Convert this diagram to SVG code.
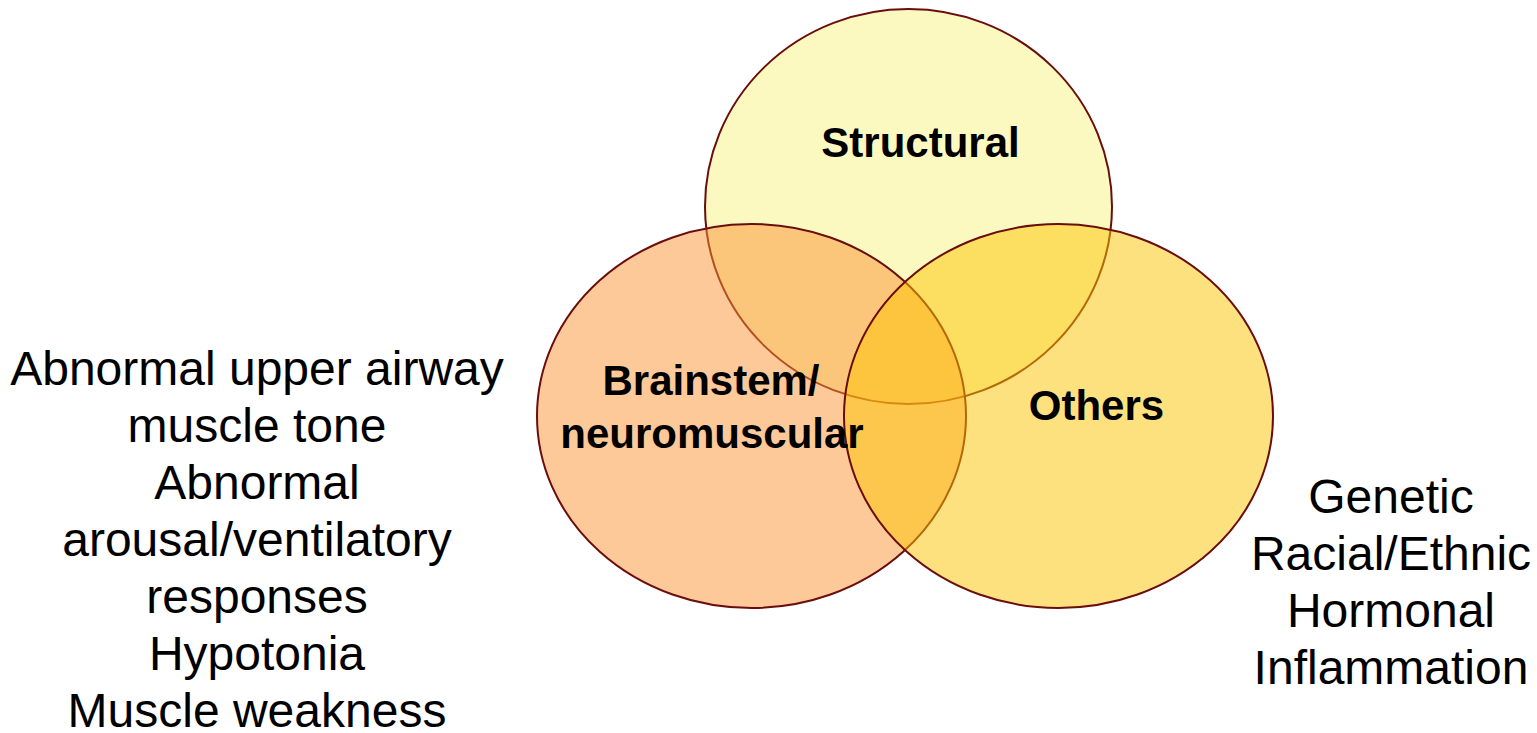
<svg xmlns="http://www.w3.org/2000/svg" width="1537" height="733" viewBox="0 0 1537 733">
<style>
.c{stroke:#6B0D0D;stroke-width:2;fill-opacity:0.5}
.lbl{font-family:"Liberation Sans",Arial,sans-serif;font-weight:bold;font-size:42px;fill:#000;text-anchor:middle}
.txt{font-family:"Liberation Sans",Arial,sans-serif;font-size:48px;fill:#000;text-anchor:middle}
</style>
<rect width="1537" height="733" fill="#fff"/>
<g id="structural">
<ellipse class="c" cx="908.5" cy="206.5" rx="203.5" ry="197.5" fill="#F7F381"/>
</g>
<g id="brainstem">
<ellipse class="c" cx="751.5" cy="416" rx="214.5" ry="192" fill="#FB9333"/>
</g>
<g id="others">
<ellipse class="c" cx="1058.5" cy="416" rx="214.5" ry="192" fill="#FDC300"/>
</g>
<g id="labels">
<text class="lbl" x="920.5" y="157">Structural</text>
<text class="lbl" x="711" y="395">Brainstem/</text>
<text class="lbl" x="712" y="448">neuromuscular</text>
<text class="lbl" x="1096.5" y="420">Others</text>
</g>
<g id="left-list">
<text class="txt" x="257" y="385">Abnormal upper airway</text>
<text class="txt" x="257" y="442">muscle tone</text>
<text class="txt" x="257" y="499">Abnormal</text>
<text class="txt" x="257" y="556">arousal/ventilatory</text>
<text class="txt" x="257" y="613">responses</text>
<text class="txt" x="257" y="670">Hypotonia</text>
<text class="txt" x="257" y="727">Muscle weakness</text>
</g>
<g id="right-list">
<text class="txt" x="1391" y="513">Genetic</text>
<text class="txt" x="1391" y="570">Racial/Ethnic</text>
<text class="txt" x="1391" y="627">Hormonal</text>
<text class="txt" x="1391" y="684">Inflammation</text>
</g>
<g id="connectors"></g>
</svg>
